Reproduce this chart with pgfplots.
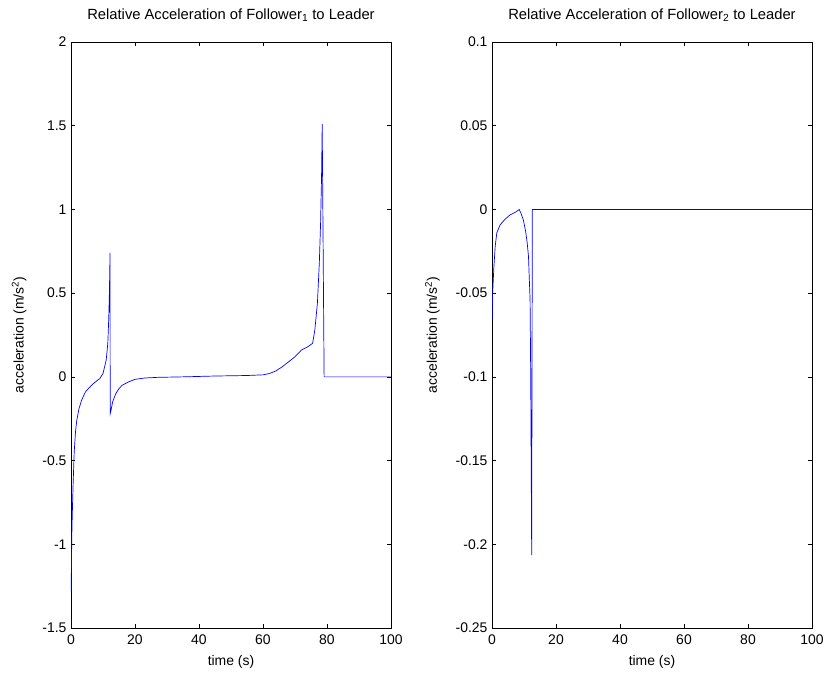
\documentclass[border=0pt]{standalone}
\usepackage{fontspec}
\setmainfont{Liberation Sans}
\usepackage{pgfplots}
\pgfplotsset{compat=1.18}
\begin{document}
\begin{tikzpicture}
\path[use as bounding box] (-71bp,-49bp) rectangle (757bp,628bp);
\pgfplotsset{
  every axis/.append style={
    scale only axis, width=320bp, height=586bp,
    axis line style={line width=0.8pt},
    tick style={line width=0.6pt, black},
    major tick length=4bp,
    tick align=inside,
    xmin=0, xmax=100,
    xtick={0,20,...,100},
    xticklabels={0,20,40,60,80,100},
    tick label style={font=\fontsize{14}{16}\selectfont},
    xticklabel style={yshift=-3bp},
    yticklabel style={xshift=-1bp},
    label style={font=\fontsize{14}{16}\selectfont},
    title style={font=\fontsize{14.8}{16}\selectfont, yshift=11bp},
    xlabel={time (s)},
    ylabel={acceleration (m/s\textsuperscript{2})},
    xlabel style={yshift=-4bp},
    ylabel style={yshift=9bp},
  }
}
\begin{axis}[at={(0,0)}, anchor=south west,
  ymin=-1.5, ymax=2,
  ytick={-1.5,-1,-0.5,0,0.5,1,1.5,2},
  yticklabels={-1.5,-1,-0.5,0,0.5,1,1.5,2},
  title={Relative Acceleration of Follower\textsubscript{1} to Leader}]
\addplot[blue, line width=0.7pt] coordinates {
(0.05,-1.28) (0.15,-1.1) (0.3,-0.9) (0.5,-0.75) (0.7,-0.62) (1.0,-0.45) (1.4,-0.33)
(1.8,-0.26) (2.5,-0.19) (3.3,-0.14) (4.5,-0.09) (5.9,-0.06) (7,-0.04) (8,-0.025)
(9,-0.01) (10,0.02) (10.5,0.06) (11,0.1) (11.5,0.2) (11.8,0.35) (12.0,0.5) (12.2,0.74)
(12.25,-0.22) (12.5,-0.2) (13,-0.15) (14,-0.1) (15,-0.07) (16,-0.05) (18,-0.03)
(20,-0.015) (23,-0.007) (27,-0.003) (35,0) (45,0.005) (55,0.008) (60,0.012) (62,0.02)
(64,0.035) (66,0.06) (68,0.09) (70,0.12) (72,0.16) (74,0.18) (75.5,0.2) (76.2,0.28)
(77,0.44) (77.6,0.68) (78,0.92) (78.3,1.2) (78.5,1.51) (79.1,0.0) (100,0)
};
\end{axis}
\begin{axis}[at={(421bp,0)}, anchor=south west,
  ymin=-0.25, ymax=0.1,
  ytick={-0.25,-0.2,-0.15,-0.1,-0.05,0,0.05,0.1},
  yticklabels={-0.25,-0.2,-0.15,-0.1,-0.05,0,0.05,0.1},
  title={Relative Acceleration of Follower\textsubscript{2} to Leader}]
\addplot[blue, line width=0.7pt] coordinates {
(0.05,-0.065) (0.2,-0.05) (0.6,-0.034) (1,-0.022) (1.5,-0.014) (2.5,-0.0093) (4,-0.006)
(5.6,-0.0033) (7,-0.002) (8,-0.0008) (8.5,0) (9,-0.002) (9.8,-0.0063) (10.5,-0.013)
(11,-0.02) (11.4,-0.028) (11.9,-0.054) (12.1,-0.1) (12.4,-0.2065) (12.6,0) (100,0)
};
\end{axis}
\end{tikzpicture}
\end{document}
